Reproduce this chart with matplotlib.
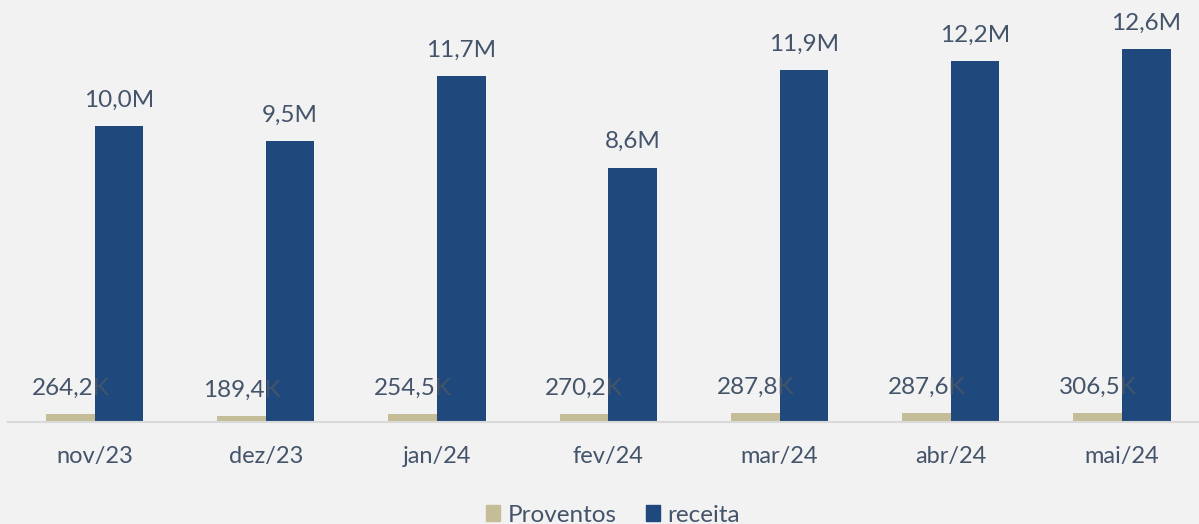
import numpy as np
import matplotlib
matplotlib.use("Agg")
from matplotlib import pyplot as plt
from matplotlib.patches import Patch

meses = ['nov/23', 'dez/23', 'jan/24', 'fev/24', 'mar/24', 'abr/24', 'mai/24']
proventos = [264.2e3, 189.4e3, 254.5e3, 270.2e3, 287.8e3, 287.6e3, 306.5e3]
receita = [10.0e6, 9.5e6, 11.7e6, 8.6e6, 11.9e6, 12.2e6, 12.6e6]

cor_prov = '#c4bd97'
cor_rec = '#1f497d'
cor_texto = '#44546a'
fundo = '#f2f2f2'

plt.rcParams['font.family'] = ['Lato', 'DejaVu Sans']

def fmt(v):
    # formato brasileiro com virgula
    if v >= 1e6:
        return ('%.1f' % (v / 1e6)).replace('.', ',') + 'M'
    return ('%.1f' % (v / 1e3)).replace('.', ',') + 'K'

W, H = 1199, 524
fig = plt.figure(figsize=(W / 100, H / 100), dpi=100, facecolor=fundo)
ax = fig.add_axes([8 / W, (H - 422) / H, (W - 8) / W, 422 / H])
ax.set_facecolor(fundo)

x = np.arange(len(meses))
larg = 0.284
b1 = ax.bar(x - larg / 2, proventos, larg, color=cor_prov, zorder=2)
b2 = ax.bar(x + larg / 2, receita, larg, color=cor_rec, zorder=2)

for barras, vals in [(b1, proventos), (b2, receita)]:
    for b, v in zip(barras, vals):
        ax.annotate(fmt(v), (b.get_x() + b.get_width() / 2, v),
                    xytext=(0, 14), textcoords='offset points',
                    ha='center', va='baseline', fontsize=17.5, color=cor_texto, zorder=3)

ax.set_xlim(-0.506, 6.45)
ax.set_ylim(0, 14.27e6)
ax.set_xticks(x)
ax.set_xticklabels(meses, fontsize=17, color=cor_texto)
ax.tick_params(axis='x', length=0, pad=17)
ax.set_yticks([])
for s in ['top', 'right', 'left']:
    ax.spines[s].set_visible(False)
ax.spines['bottom'].set_color('#d9d9d9')
ax.spines['bottom'].set_linewidth(1.5)

handles = [Patch(color=cor_prov, label='Proventos'), Patch(color=cor_rec, label='receita')]
fig.legend(handles=handles, loc='lower center', bbox_to_anchor=(613 / W, -0.045),
           ncol=2, frameon=False, fontsize=17.5, labelcolor=cor_texto,
           handlelength=0.6, handleheight=0.6, handletextpad=0.3, columnspacing=1.2)

fig.savefig('out.png', dpi=100, facecolor=fundo)
